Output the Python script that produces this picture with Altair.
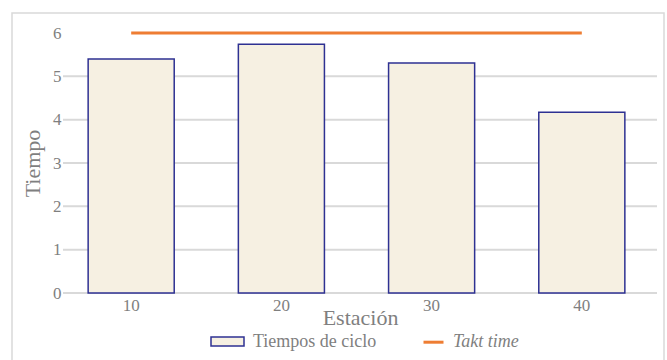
import altair as alt
import pandas as pd

# Data
estaciones = ["10", "20", "30", "40"]
tiempos_ciclo = [5.40, 5.74, 5.31, 4.17]
takt_time = [6, 6, 6, 6]
y_ticks = [0, 1, 2, 3, 4, 5, 6]
grid_values = [0, 1, 2, 3, 4, 5]
serie_barras = "Tiempos de ciclo"
serie_linea = "Takt time"

W, H = 594, 260
FONT = "Liberation Serif"
TXT = "#7f7f7f"
BAR_FILL = "#f6f0e2"
BAR_STROKE = "#2e3192"
ORANGE = "#ee7d33"
GRID = "#d9d9d9"

bars_df = pd.DataFrame({"Estación": estaciones, "Tiempo": tiempos_ciclo,
                        "serie": [serie_barras] * len(estaciones)})
takt_df = pd.DataFrame({"Estación": estaciones, "Tiempo": takt_time,
                        "serie": [serie_linea] * len(estaciones)})
grid_df = pd.DataFrame({"Tiempo": grid_values})
frame_df = pd.DataFrame({"k": [0]})

x_scale = alt.Scale(domain=estaciones, range=[-7, W], paddingInner=0.427, paddingOuter=0.214)
y_scale = alt.Scale(domain=[0, 6], nice=False)

x_axis = alt.Axis(title="Estación", labelAngle=0, ticks=False, domain=False, grid=False,
                  labelPadding=4, labelFontSize=17, labelColor=TXT, labelFont=FONT,
                  titleFont=FONT, titleFontSize=22, titleColor=TXT, titleFontWeight="normal",
                  titleX=W / 2, titleY=31.5, titleBaseline="alphabetic")
y_axis = alt.Axis(title="Tiempo", values=y_ticks, grid=False, domain=False, ticks=False,
                  labelPadding=2, labelFontSize=17, labelColor=TXT, labelFont=FONT,
                  titleFont=FONT, titleFontSize=22, titleColor=TXT, titleFontWeight="normal",
                  titleAngle=270, titleX=-24, titleY=H / 2, titleBaseline="alphabetic",
                  titleAlign="center")

X = alt.X("Estación:N", scale=x_scale, axis=x_axis, sort=estaciones)
Y = alt.Y("Tiempo:Q", scale=y_scale, axis=y_axis)

frame = alt.Chart(frame_df).mark_rect(fill="transparent", stroke=GRID, strokeWidth=1.5).encode(
    x=alt.value(-51), x2=alt.value(601), y=alt.value(-20), y2=alt.value(340)
)

grid = alt.Chart(grid_df).mark_rule(color=GRID, strokeWidth=2).encode(
    y=Y, x=alt.value(0), x2=alt.value(W)
)

bars = alt.Chart(bars_df).mark_bar(stroke=BAR_STROKE, strokeWidth=1.5).encode(
    x=X, y=Y,
    fill=alt.Fill("serie:N", scale=alt.Scale(domain=[serie_barras], range=[BAR_FILL]),
                  legend=alt.Legend(title=None, orient="none", legendX=147, legendY=291,
                                    symbolType="M-1,-0.27H1V0.27H-1Z", symbolSize=1089,
                                    symbolStrokeColor=BAR_STROKE, symbolStrokeWidth=1.5,
                                    labelOffset=8, labelFontSize=18, labelColor=TXT,
                                    labelFont=FONT, padding=0))
)

line = alt.Chart(takt_df).mark_line(strokeWidth=3, strokeCap="butt").encode(
    x=X, y=Y,
    stroke=alt.Stroke("serie:N", scale=alt.Scale(domain=[serie_linea], range=[ORANGE]),
                      legend=alt.Legend(title=None, orient="none", legendX=359, legendY=297.7,
                                        symbolType="stroke", symbolSize=400,
                                        symbolStrokeWidth=3, labelOffset=8,
                                        labelFontSize=18, labelFontStyle="italic",
                                        labelColor=TXT, labelFont=FONT, padding=0))
)

chart = alt.layer(frame, grid, bars, line).resolve_scale(
    fill="independent", stroke="independent"
).properties(
    width=W, height=H,
    padding={"left": 63, "top": 33, "right": 10, "bottom": 67},
    autosize=alt.AutoSizeParams(type="none"),
    background="white",
).configure(font=FONT).configure_view(stroke=None).configure_axis(
    labelFont=FONT, titleFont=FONT
).configure_legend(labelFont=FONT)

chart.save("out.html", embed_options={"renderer": "svg", "actions": False})
